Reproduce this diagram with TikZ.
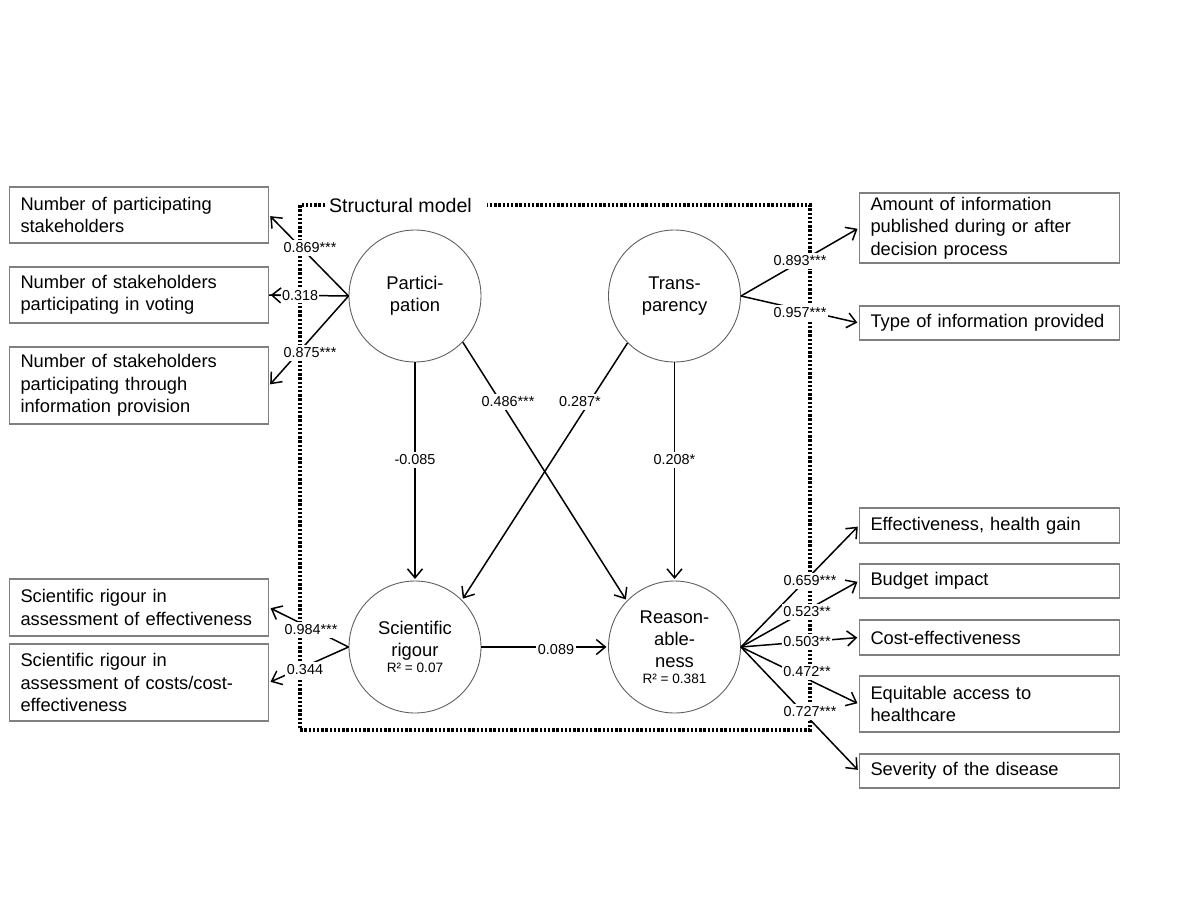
\documentclass[tikz,border=0pt]{standalone}
\usepackage{fontspec}
\setmainfont{Liberation Sans}
\usetikzlibrary{arrows.meta}
\definecolor{boxgray}{RGB}{128,128,128}
\definecolor{circgray}{RGB}{95,95,95}
\hyphenpenalty=10000
\exhyphenpenalty=10000
\tikzset{
 ind/.style={draw=boxgray, line width=0.6pt, align=left, text width=118.5pt, inner xsep=5.5pt, inner ysep=0pt, font=\fontsize{9.15}{11.2}\selectfont},
 lat/.style={circle, draw=circgray, line width=0.45pt, minimum size=66pt, inner sep=0pt, align=center, font=\fontsize{9.2}{11}\selectfont},
 conn/.style={line width=0.75pt, shorten >=0.8pt, -{Straight Barb[length=4.5pt,width=7.5pt,line width=0.75pt]}},
 lab/.style={fill=white, inner xsep=0.8pt, inner ysep=1.5pt, font=\fontsize{7.2}{8.5}\selectfont},
 frame/.style={line width=1.6pt, dash pattern=on 1.2pt off 0.9pt},
}
\begin{document}
\begin{tikzpicture}[x=0.5pt,y=-0.5pt]
\useasboundingbox (0,0) rectangle (1200,900);
% structural model frame
\draw[frame] (325,205) -- (300,205) -- (300,730) -- (810,730) -- (810,205) -- (487,205);
\node[font=\fontsize{9.8}{12}\selectfont, inner sep=0pt] (title) at (400.5,205) {Structural model};
% latent variables
\node[lat] (P) at (415,296) {Partici-\\pation};
\node[lat] (T) at (674.5,296) {Trans-\\parency};
\node[lat] (S) at (415,647) {Scientific\\rigour\\[-3pt]{\fontsize{6.8}{8}\selectfont R² = 0.07}};
\node[lat] (R) at (674.5,647) {Reason-\\able-\\ness\\[-3pt]{\fontsize{6.8}{8}\selectfont R² = 0.381}};
% indicators left
\node[ind, minimum height=28pt] (L1) at (139,215) {Number of participating\\stakeholders};
\node[ind, minimum height=28pt] (L2) at (139,295) {Number of stakeholders\\participating in voting};
\node[ind, minimum height=38.5pt] (L3) at (139,385.5) {Number of stakeholders\\participating through\\information provision};
\node[ind, minimum height=28.5pt] (L4) at (139,607.5) {Scientific rigour in\\assessment of effectiveness};
\node[ind, minimum height=38.5pt] (L5) at (139,682.5) {Scientific rigour in\\assessment of costs/cost-\\effectiveness};
% indicators right
\node[ind, text width=119pt, minimum height=35pt] (R1) at (989.5,228) {Amount of information\\published during or after\\decision process};
\node[ind, text width=119pt, minimum height=17pt] (R2) at (989.5,323) {Type of information provided};
\node[ind, text width=119pt, minimum height=17.5pt] (R3) at (989.5,525.5) {Effectiveness, health gain};
\node[ind, text width=119pt, minimum height=17pt] (R4) at (989.5,581) {Budget impact};
\node[ind, text width=119pt, minimum height=17.5pt] (R5) at (989.5,637.5) {Cost-effectiveness};
\node[ind, text width=119pt, minimum height=28pt] (R6) at (989.5,704) {Equitable access to\\healthcare};
\node[ind, text width=119pt, minimum height=17pt] (R7) at (989.5,771) {Severity of the disease};
% connectors
\draw[conn] (P.west) -- (L1.east);
\draw[conn] (P.west) -- (L3.east);
\draw[conn] (S.west) -- (L4.east);
\draw[conn] (S.west) -- (L5.east);
\draw[conn] (T.east) -- (R1.west);
\draw[conn] (T.east) -- (R2.west);
\draw[conn] (R.east) -- (R3.west);
\draw[conn] (R.east) -- (R4.west);
\draw[conn] (R.east) -- (R5.west);
\draw[conn] (R.east) -- (R6.west);
\draw[conn] (R.east) -- (R7.west);
\draw[conn] (P.south) -- (S.north);
\draw[conn] (T.south) -- (R.north);
\draw[conn] (P.-44) -- (R.136);
\draw[conn] (T.-135) -- (S.45);
\draw[conn] (S.east) -- (R.west);
% path labels
\node[lab] (l1) at (310,248) {0.869***};
\node[lab] (l3) at (310,353) {0.875***};
\node[lab] (l4) at (311,630) {0.984***};
\node[lab] (l5) at (305,670) {0.344};
\node[lab] (l6) at (800,261) {0.893***};
\node[lab] (l7) at (800,313) {0.957***};
\node[lab] (l8) at (810,581) {0.659***};
\node[lab] (l9) at (807,612) {0.523**};
\node[lab] (l10) at (807,642) {0.503**};
\node[lab] (l11) at (807,672) {0.472**};
\node[lab] (l12) at (810,712) {0.727***};
\node[lab] (l13) at (415,460) {-0.085};
\node[lab] (l14) at (674.5,460) {0.208*};
\node[lab] (l15) at (508,402) {0.486***};
\node[lab] (l16) at (580,402) {0.287*};
\node[lab] (l17) at (556,650) {0.089};
% 0.318: label drawn on the line, arrow tip kept visible
\draw[line width=0.75pt] (P.west) -- (L2.east) node[lab, inner xsep=0.3pt, pos=0.61] (l2) {0.318};
\draw[conn] (l2.west) -- (L2.east);
\end{tikzpicture}
\end{document}
